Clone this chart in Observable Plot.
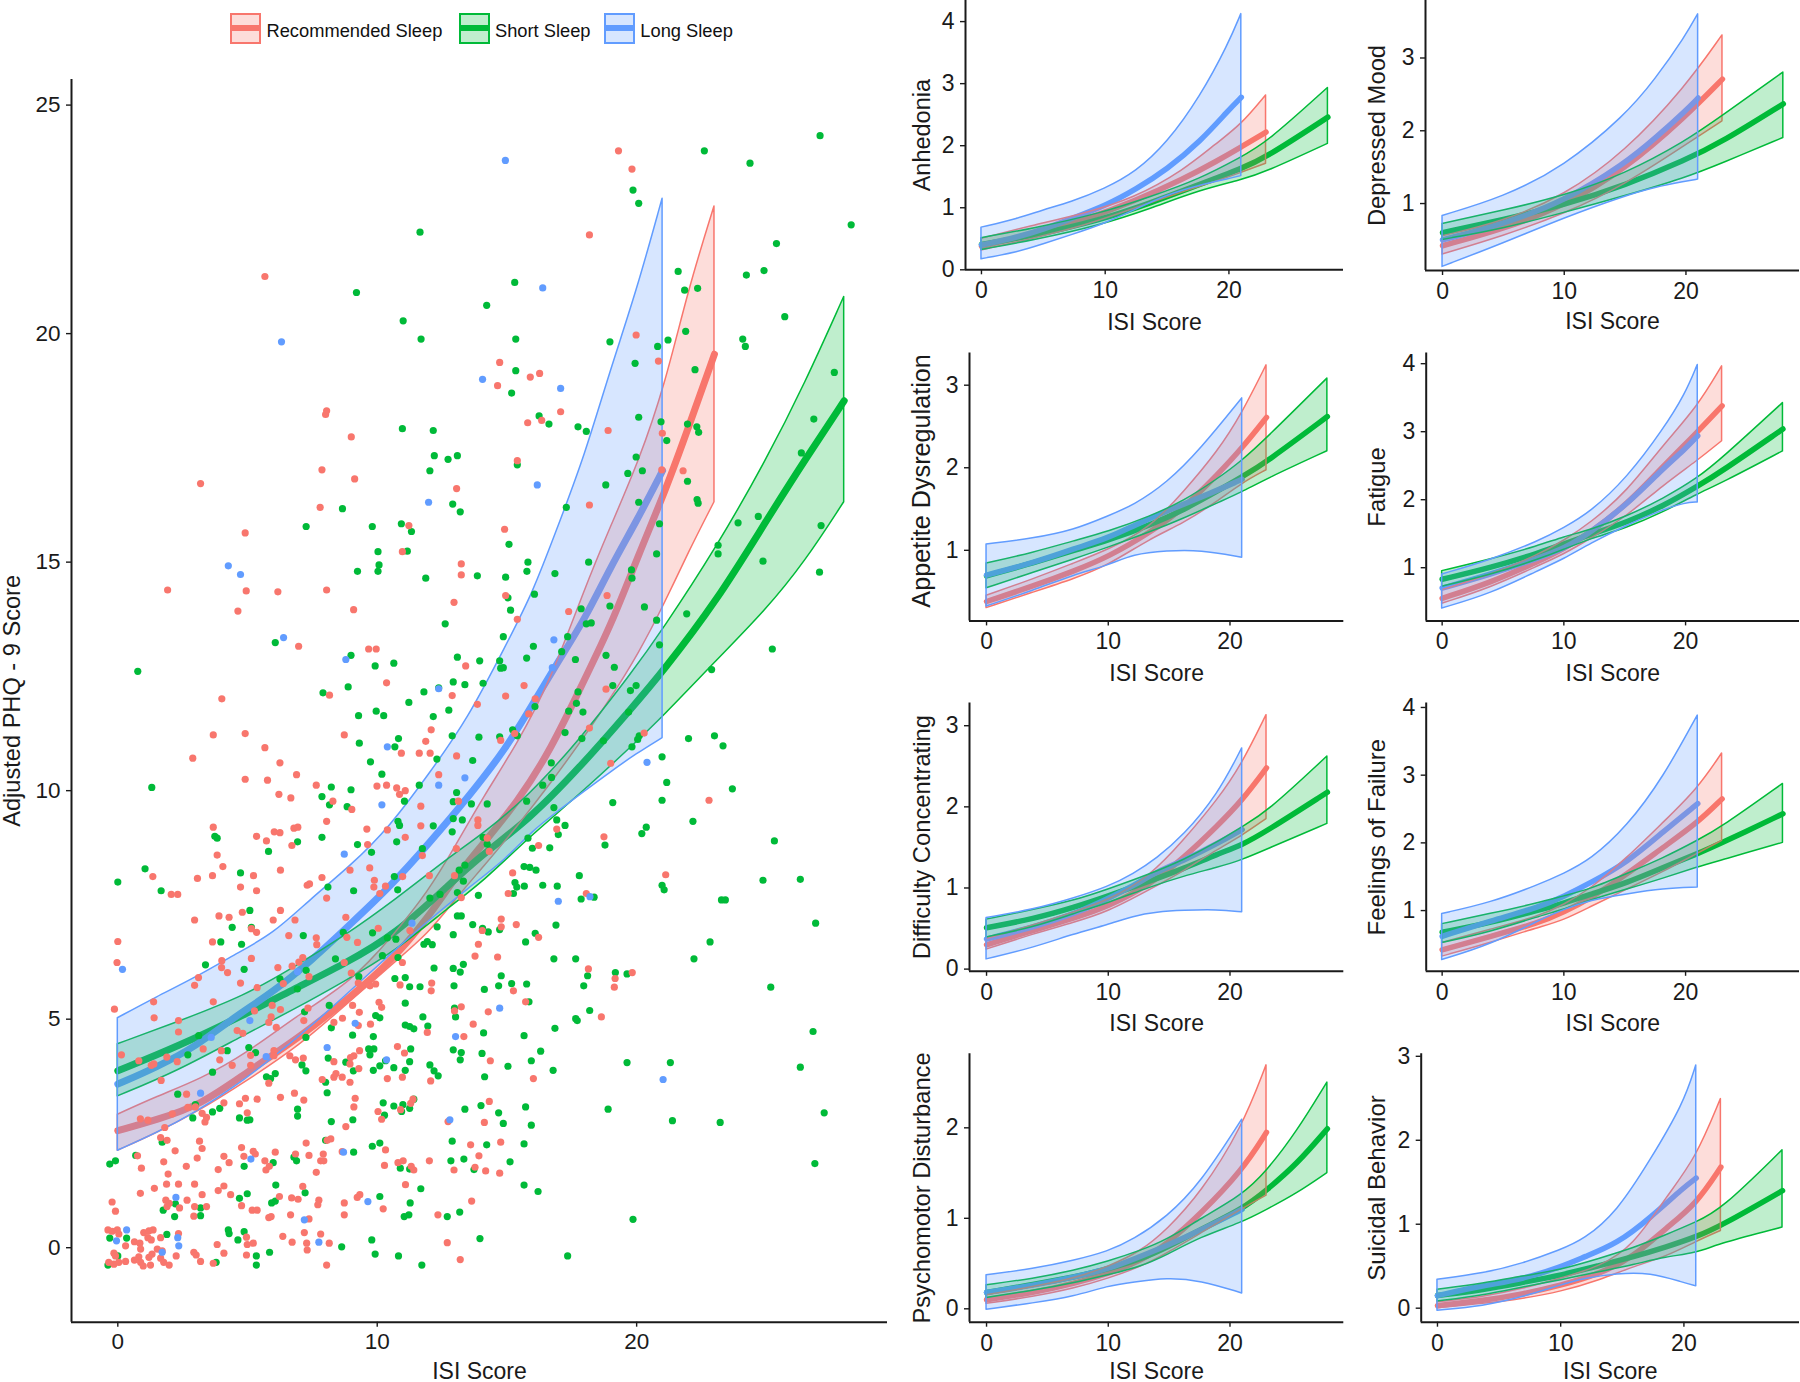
<!DOCTYPE html>
<html><head><meta charset="utf-8">
<script src="https://cdn.jsdelivr.net/npm/d3@7"></script>
<script src="https://cdn.jsdelivr.net/npm/@observablehq/plot@0.6"></script>
<style>
html,body{margin:0;padding:0;background:#fff;width:1800px;height:1382px;overflow:hidden;font-family:"Liberation Sans",Arial,sans-serif}
#page{position:relative;width:1800px;height:1382px}
.panel{position:absolute}
.key{position:absolute;top:13px;width:27px;height:27px;border:2px solid}
.key i{position:absolute;left:0;right:0;top:10px;height:6px;display:block}
.keyText{position:absolute;top:20px;font-size:18.3px;line-height:22px;color:#111;white-space:nowrap}
</style></head><body><div id="page"></div>
<script>
const groupNames = ["Recommended Sleep","Short Sleep","Long Sleep"];
const isiLabel = "ISI Score";
const colRed="#F8766D", colGreen="#00BA38", colBlue="#619CFF";

// --- overall PHQ-9 model: rows are [ISI, lower, fit, upper]
const phqRecommended=[[0,2.12,2.56,2.91],[1.5,2.5,2.8,3.3],[3.2,3.0,3.12,3.68],[5,3.65,3.85,4.25],[7,4.4,4.6,5.1],[9,5.4,5.5,5.8],[10.6,6.2,6.3,6.8],[12,6.87,7.25,7.8],[13,7.6,8.1,8.75],[14.1,8.32,8.85,9.85],[15.4,9.2,9.75,11.0],[16.7,10.15,10.9,12.4],[18,11.17,12.45,14.4],[19,12.0,13.6,15.76],[20.1,13.0,15.2,17.2],[21.1,14.1,16.55,18.85],[22,15.2,17.95,20.95],[23,16.31,19.55,22.78]];
const phqShort=[[0,3.31,3.87,4.45],[2.3,3.85,4.4,4.93],[4.9,4.65,5.1,5.5],[6.8,5.2,5.66,6.13],[8.7,5.8,6.2,6.79],[10.7,6.47,6.85,7.6],[12.8,7.45,7.96,8.54],[14.1,8.0,8.63,9.05],[15.8,8.94,9.34,9.85],[17.8,9.9,10.5,11.09],[19.8,10.95,11.8,12.55],[21,11.6,12.6,13.5],[23.1,12.85,14.16,15.32],[25,13.95,15.91,17.22],[26.5,15.0,17.25,18.9],[28,16.31,18.53,20.8]];
const phqLong=[[0,2.12,3.58,5.02],[1.5,2.5,3.95,5.48],[3,2.95,4.4,5.9],[4.5,3.5,5.05,6.4],[6,4.15,5.6,6.85],[7.5,4.85,6.3,7.65],[9,5.62,7.1,8.35],[10.5,6.4,7.9,9.2],[12,7.15,8.85,10.35],[13.5,7.85,9.85,11.55],[15,8.5,10.95,13.2],[16,9.12,11.9,14.3],[17,9.55,12.85,15.8],[18,9.98,13.75,17.3],[19,10.4,14.9,19.2],[20,10.8,15.9,20.9],[21,11.15,17.0,22.95]];

// --- participants: [ISI, adjusted PHQ-9]
const pointsShort=[[11.65,22.22],[9.2,20.9],[11,20.28],[11.69,19.88],[10.97,17.92],[12.16,17.88],[12.2,17.33],[12.73,17.25],[22.61,24],[24.37,23.73],[27.07,24.33],[19.86,23.14],[20.08,22.85],[28.27,22.38],[25.39,21.97],[24.91,21.38],[24.23,21.28],[21.6,21.36],[21.85,20.95],[22.35,20.99],[15.3,21.12],[14.22,20.62],[25.71,20.37],[15.34,19.88],[18.97,19.82],[21.21,19.86],[20.81,19.72],[21.89,20.05],[24.09,19.88],[24.19,19.72],[19.94,19.35],[22.25,19.21],[27.62,19.15],[15.34,19.19],[15.18,18.7],[16.24,18.2],[16.62,18.02],[17.74,17.96],[18.06,17.86],[20.08,18.17],[20.94,18.07],[21.96,18.02],[22.32,17.96],[22.39,17.84],[21.16,17.66],[26.83,18.13],[26.35,17.39],[19.98,17.3],[13.09,17.33],
[12.03,17],[8.66,16.17],[7.26,15.78],[9.81,15.78],[10.93,15.84],[11.32,15.67],[10.03,15.23],[11.16,15.24],[10.07,14.94],[9.24,14.8],[10.03,14.8],[11.87,14.65],[12.62,13.65],[6.07,13.24],[8.99,12.96],[9.92,12.73],[10.64,12.79],[0.77,12.61],[8.88,12.27],[7.91,12.14],[11.8,12.16],[12.37,12.25],[11.22,11.93],[9.96,11.74],[10.25,11.64],[9.28,11.64],[12.16,11.62],[12.76,11.76],[9.31,11.04],[10.82,11.14],[10.68,10.96],[12.3,10.69],[9.74,10.63],[10.18,10.36],[1.31,10.07],[8.23,10.08],[7.87,9.87],[8.99,10.02],[11.62,10.12],[8.16,9.69],[8.84,9.65],[11.05,9.77],[10.8,9.33],[10.86,9.24],[12.16,9.23],[3.74,9],[3.83,8.96],[7.87,8.98],[6.93,8.88],[5.81,8.67],[9.24,8.82],[9.78,8.65],[10.75,8.88],[11.74,8.73],[1.05,8.29],[4.73,8.2],[0,8],[1.67,7.81],[8.1,7.89],[9.09,7.81],[10.66,8.12],[10.79,7.83],[5.09,7.38],[12.03,7.65],[12.42,7.73],
[15.4,17.13],[19.66,16.94],[20.22,17],[21.96,16.77],[18.81,16.69],[12.91,16.27],[13.2,16.1],[17.29,16.2],[20.08,16.31],[22.33,16.37],[22.37,16.29],[20.88,15.84],[23.91,15.86],[24.69,16],[27.11,15.8],[15.08,15.39],[23.14,15.37],[23.14,15.18],[20.77,15.18],[15.81,15],[15.77,14.8],[18.15,15],[16.85,14.75],[13.86,14.7],[14.95,14.67],[19.8,14.83],[19.82,14.65],[24.87,15.02],[27.05,14.78],[15.04,14.22],[16.06,14.3],[15.14,13.95],[17.86,13.98],[18.97,14.04],[20.3,14.02],[21.93,13.87],[18.06,13.65],[18.25,13.67],[20.77,13.73],[14.86,13.37],[17.34,13.37],[16.02,13.16],[20.88,13.19],[25.23,13.1],[13.09,12.92],[13.95,12.84],[14.72,12.84],[15.76,12.9],[17.11,13.04],[17.64,12.87],[18.82,12.96],[19.14,12.7],[14.76,12.68],[14.86,12.69],[22.89,12.65],[12.93,12.38],[13.38,12.32],[14.08,12.35],[19.08,12.3],[19.98,12.3],[19.76,12.19],[17.74,12.16],[16.08,11.84],[17.68,11.91],[17.38,11.74],[17.93,11.72],[19.69,11.72],[17.24,11.27],[17.89,11.14],[18.72,11.09],[22,11.14],[23,11.2],[23.33,10.98],[12.89,11.2],[13.92,11.17],[14.72,11.18],[15.22,11.33],[15.4,11.2],[20.1,11.2],[20.04,11.12],[19.82,10.96],[20.98,10.74],[13.68,10.66],[16.71,10.61],[16.38,10.12],[16.72,10.29],[21.16,10.18],[23.69,10.04],[13.06,9.96],[12.93,9.76],[13.63,9.71],[14.24,9.71],[15.76,9.77],[19.08,9.74],[20.98,9.79],[16.81,9.63],[12.93,9.39],[13.28,9.36],[12.89,9.1],[16.92,9.36],[17.24,9.24],[16.98,9.04],[20.37,9.2],[20.2,9.06],[22.17,9.33],[14.08,8.98],[15.81,8.96],[14.24,8.83],[25.31,8.9],[18.78,8.81],[15.98,8.74],[16.65,8.75],[15.66,8.34],[15.88,8.32],[16.12,8.26],[13.38,8.37],[13.16,8.26],[13.32,8.02],[17.79,8.14],[15.31,7.99],[15.38,7.89],[15.67,7.91],[16.38,7.93],[16.94,7.91],[20.98,7.93],[21.06,7.83],[24.87,8.04],[26.31,8.06],[15.25,7.75],[13.09,7.77],[13.9,7.71],[17.86,7.63],[18.36,7.67],[23.27,7.61],[23.42,7.61],[13.09,7.26],[13.24,7.26],
[4.41,7.01],[5.15,7.01],[3.97,6.69],[4.77,6.64],[7.15,6.83],[3.38,6.19],[4.87,6.09],[6.25,5.88],[7.26,6.07],[6.92,5.66],[8.69,6.9],[8.39,6.32],[9.82,6.89],[10.39,6.78],[10.72,6.75],[10.2,6.39],[10.8,6.35],[11.8,6.64],[11.93,6.7],[12.12,6.63],[12.31,7.02],[12.19,6.12],[9.29,5.93],[10.68,5.89],[11.08,5.91],[11.25,5.71],[11.65,5.71],[3.12,4.64],[2.7,4.22],[4.22,4.31],[5.05,4.38],[5.31,4.27],[7.2,5.16],[8.15,5.3],[7.25,4.6],[8.23,4.81],[9.05,4.65],[9.85,4.62],[9.94,5.08],[10.1,5.03],[11.08,5.35],[11.76,5.05],[11.08,4.87],[11.25,4.84],[11.41,4.79],[11.95,4.85],[11.29,4.35],[9.67,4.35],[9.87,4.35],[9.72,4.22],[8.11,4.15],[8.79,4.06],[7.1,4],[7.25,3.87],[9.85,3.88],[10.1,3.98],[10.32,4.09],[10.64,3.94],[11.25,4.07],[11.08,3.88],[12.03,4],[12.19,3.87],[12.35,3.76],[9.08,3.87],[8.01,3.62],[8.07,3.39],[3.65,3.84],[5.73,3.74],[6.07,3.81],[5.89,3.7],[2.31,3.36],[2.99,3.13],[2.89,2.84],[3.65,2.97],[3.93,3.05],[4.69,2.84],[4.99,2.79],[5.09,2.8],[6.93,3.03],[6.93,2.88],[8.23,2.76],[9.06,2.8],[10.23,3.17],[10.28,2.9],[10.64,3.1],[10.99,3.13],[10.94,2.98],[11.25,3.05],[11.41,3.25],[1.71,2.31],[8.01,2.35],[9.09,2.09],[9.81,2.22],[10.1,2.29],[-0.31,1.83],[-0.09,1.9],[0.69,2.02],[4.87,1.78],[5.99,1.86],[6.79,1.98],[6.89,1.9],[10.89,1.74],[11.25,1.72],[6.09,1.37],[7.22,1.2],[4.99,1.18],[4.69,1.08],[10.1,1.12],[11.68,1.29],[11.27,0.98],[2.22,0.96],[5.93,0.98],[6.07,1.02],[1.75,0.82],[2.19,0.68],[3.19,0.87],[3.19,0.7],[11.04,0.68],[11.22,0.72],[12.7,0.68],[1.89,0.29],[4.26,0.39],[4.29,0.31],[4.87,0.35],[4.63,0.17],[-0.31,0.21],[0.34,0.21],[9.79,0.17],[8.63,0.02],[5.85,-0.1],[5.34,-0.18],[5.34,-0.38],[0,-0.18],[3.79,-0.32],[9.92,-0.14],[10.82,-0.18],[11.72,-0.38],[-0.38,-0.38],
[13.68,7.07],[14.06,6.99],[14.28,6.91],[14.72,6.96],[16.89,7.06],[26.9,7.1],[12.93,6.85],[16.09,6.88],[15.72,6.69],[22.83,6.69],[16.81,6.32],[17.65,6.32],[22.21,6.32],[13.32,6.2],[12.93,6.11],[13.2,6.03],[14.78,5.95],[19.18,6.02],[19.63,5.99],[18.11,5.95],[17.96,5.73],[15.18,5.78],[15.76,5.77],[25.17,5.7],[12.96,5.73],[14.68,5.73],[14.13,5.65],[15.85,5.38],[12.98,5.24],[13.02,5.05],[18.19,5.19],[17.65,5.01],[17.71,4.97],[16.85,4.8],[14.1,4.7],[15.66,4.64],[26.8,4.73],[12.93,4.33],[13.24,4.27],[14.04,4.25],[16.3,4.3],[13.2,4.11],[15.94,4.09],[19.63,4.05],[21.3,4.05],[15.04,3.97],[26.31,3.95],[16.78,3.88],[14.14,3.74],[13.38,3.03],[14,3.11],[14.68,2.95],[15.72,3.08],[18.9,3.03],[27.23,2.95],[21.38,2.78],[14.86,2.72],[15.94,2.68],[23.22,2.74],[12.89,2.33],[14.22,2.25],[15.66,2.27],[12.84,1.9],[13.34,1.94],[15.12,1.88],[13.73,1.71],[26.87,1.84],[15.66,1.37],[16.2,1.23],[13.18,0.78],[19.86,0.62],[13.96,0.2],[17.34,-0.18]];
const pointsRecommended=[[5.67,21.25],[8.01,18.23],[8.05,18.31],[9,17.74],[19.3,24],[19.82,23.6],[18.18,22.16],[19.98,19.97],[20.84,19.4],[14.72,19.37],[14.64,18.86],[15.9,19.05],[16.26,19.13],[17.07,18.29],[15.8,18.05],[16.34,18.1],[18.9,17.88],[20.99,17.82],[15.4,17.22],
[7.87,17.02],[9.13,16.82],[3.19,16.72],[7.8,16.2],[4.91,15.64],[11.22,15.8],[10.97,15.23],[1.92,14.39],[4.95,14.37],[6.17,14.35],[8.05,14.39],[4.63,13.93],[9.09,13.96],[6.97,13.16],[9.67,13.1],[9.96,13.1],[10.36,12.36],[8.16,12.09],[4.01,12.01],[3.68,11.22],[4.91,11.25],[8.73,11.22],[5.67,10.94],[2.89,10.71],[6.25,10.61],[10.93,10.82],[11.62,10.82],[12.04,10.82],[11.87,11.08],[12.08,11.33],[6.89,10.35],[4.91,10.25],[5.77,10.23],[7.65,10.12],[9.99,10.1],[10.36,10.12],[10.75,10.06],[11.08,10],[10.86,9.92],[6.21,9.92],[6.67,9.84],[8.29,9.77],[9.02,9.59],[11.68,9.66],[12.37,10.35],[3.68,9.2],[8.05,9.33],[9.6,9.16],[10.39,9.14],[11.68,9.23],[6.03,9.1],[6.25,9.08],[6.79,9.18],[6.94,9.2],[5.35,9],[5.73,8.9],[6.71,8.8],[11.08,8.98],[9.63,8.82],[3.83,8.59],[4.05,8.34],[11.74,8.58],[6.27,8.26],[8.95,8.26],[9.71,8.31],[1.35,8.12],[3.07,8.08],[3.65,8.14],[5.23,8.14],[7.87,8.1],[9.89,8.04],[10.98,8.12],[12.01,8.14],[4.73,7.89],[5.35,7.81],[7.3,7.93],[7.39,7.96],[9.87,7.89],[10.32,7.91],[10.1,7.75],[2.06,7.73],[2.31,7.73],[8.05,7.65],[3.9,7.26],[4.29,7.23],[4.8,7.34],[6.27,7.38],[2.96,7.17],[5.99,7.17],[6.83,7.17],[8.79,7.23],
[13.06,16.61],[14.91,15.72],[13.24,14.96],[13.24,14.72],[12.96,14.12],[14.95,14.27],[18.18,16.25],[20.97,17.02],[21.79,17],[18.86,14.27],[17.38,13.92],[15.4,13.75],[13.41,12.73],[15.66,12.3],[12.89,12.08],[14.95,12.07],[13.86,11.89],[16.09,12.01],[18.82,12.22],[15.84,11.68],[14.76,11.1],[15.3,11.25],[18.18,11.37],[20.29,11.26],[13.06,10.76],[19,10.6],[13.13,9.77],[13.88,9.36],[13.88,9.24],[14.24,8.96],[14.32,8.67],[13.05,8.73],[22.79,9.79],[16.92,9.16],[18.74,8.99],[16.22,8.8],[12.98,8.14],[15.22,8.2],[21.12,8.16],[15.05,7.75],[18.06,7.75],[13.24,7.66],[14.78,7.19],
[0,6.7],[-0.03,6.24],[-0.13,5.22],[3.65,6.69],[5.15,6.98],[5.35,6.9],[6.59,6.83],[7.65,6.78],[7.67,6.63],[4.01,6.28],[4,6.13],[5.15,6.33],[3.11,5.91],[2.96,5.74],[4.23,6.02],[4.73,5.79],[5.37,5.69],[6.17,6.13],[6.72,6.16],[6.98,6.25],[7.13,6.35],[6.38,5.78],[7.37,5.93],[8.83,6.79],[9.24,6.68],[8.73,6.24],[9,6.01],[10.04,6.99],[1.38,5.38],[1.4,5.03],[3.68,5.38],[2.34,4.97],[2.34,4.72],[5.95,5.3],[6.27,5.21],[5.27,5.18],[5.91,5.05],[5.82,4.93],[6.11,4.82],[4.6,4.75],[4.82,4.69],[3.29,4.35],[3.99,4.31],[3.93,4.11],[0.14,4.22],[0.81,4.09],[1.29,3.99],[1.39,4.02],[1.89,4.17],[2.29,4.07],[4.41,3.99],[5.12,4.21],[5.12,3.99],[6.02,4.31],[6.02,4.2],[6.63,4.2],[7.15,4.15],[6.85,4.11],[1.67,3.66],[5.82,3.6],[7.33,5.24],[7.17,4.97],[9.31,5.15],[9.05,5.3],[8.66,5.02],[8.33,4.93],[9.74,4.89],[9.27,4.86],[10.07,5.37],[10.17,5.26],[9.72,5.73],[9.94,5.77],[9.27,5.79],[10.78,4.4],[11.05,4.26],[8.33,4.07],[8.97,4.16],[9.1,4.2],[8.95,4.02],[9.32,4.31],[9.29,3.92],[7.88,3.68],[8.33,3.73],[8.41,3.81],[8.65,3.73],[8.95,3.62],[10.39,3.7],[10.97,3.73],[12.06,3.65],[11.93,4.71],[10.88,5.75],[12.1,5.79],[12.08,5.62],[11.26,6.94],[10.97,6.24],
[6.27,3.29],[6.81,3.38],[7.17,3.23],[5.37,3.25],[4.92,3.27],[4.69,3.15],[4.09,3.17],[2.65,3.36],[2.7,3.07],[2.99,3.08],[3.25,2.94],[3.42,2.85],[3.36,2.75],[4.99,2.95],[0.87,2.82],[1.16,2.79],[2.1,2.93],[1.81,2.63],[1.65,2.41],[1.9,2.35],[3.15,2.33],[3.25,2.17],[2.21,2.12],[4.77,2.19],[5.22,2.11],[5.3,2.05],[6.07,2.09],[7.26,2.29],[8.07,2.35],[8.21,2.38],[8.79,2.65],[9.1,3.08],[9.15,3.27],[10.03,2.98],[10.17,2.81],[10.9,3.02],[11.29,3.16],[11.38,3.25],[12.73,2.76],
[0.76,2.01],[1.77,1.88],[3.06,1.96],[4.09,2],[4.86,2],[4.29,1.86],[0.91,1.74],[2.64,1.78],[3.87,1.71],[5.67,1.9],[5.84,1.78],[5.71,1.7],[6.85,2.05],[7.37,2.02],[7.92,2.05],[7.82,1.9],[7.94,1.9],[7.65,1.65],[8.65,2.1],[10.32,2.14],[10.28,1.8],[10.8,1.86],[11,1.9],[11.31,1.78],[11.41,1.7],[12.01,1.9],
[1.94,1.61],[1.41,1.3],[1.88,1.39],[2.34,1.39],[2.96,1.39],[0.87,1.19],[3.25,1.16],[3.87,1.25],[4.09,1.35],[4.35,1.16],[1.85,1.04],[1.98,0.97],[1.9,0.9],[2.67,1.04],[-0.22,1],[-0.09,0.8],[2.38,0.87],[2.96,0.9],[3.42,0.9],[2.93,0.69],[4.77,0.92],[5.18,0.82],[5.37,0.82],[5.82,0.66],[5.91,0.68],[6.23,1.12],[6.7,1.09],[6.95,1.06],[7.13,1.34],[7.75,1.04],[7.71,0.94],[6.66,0.72],[7.37,0.63],[8.73,0.98],[8.73,0.72],[9.23,1.1],[9.33,1.16],[10.23,0.85],[11.09,1.38],[12.34,0.72],
[-0.38,0.39],[-0.22,0.36],[-0.02,0.39],[0.04,0.3],[1,0.33],[1.2,0.37],[1.36,0.39],[1.16,0.22],[1.29,0.17],[1.65,0.22],[0.64,0.13],[0.85,0.1],[0.3,0.04],[0.88,-0.03],[1.52,-0.03],[1.32,-0.14],[1.71,-0.07],[-0.15,-0.12],[-0.09,-0.18],[0.81,-0.2],[0.64,-0.27],[1.2,-0.21],[1.65,-0.23],[-0.35,-0.32],[-0.15,-0.36],[0.04,-0.32],[0.3,-0.3],[0.88,-0.32],[0.98,-0.4],[1.26,-0.38],[1.77,-0.32],[1.98,-0.38],[2.25,-0.18],[2.93,-0.1],[3.02,-0.16],[3.19,-0.3],[3.68,-0.34],[4.09,-0.12],[3.83,0.07],[2.34,0.31],[4.96,0.23],[4.99,0.07],[5.22,0.1],[4.96,-0.16],[6.36,0.25],[6.72,0.12],[7.19,0.33],[7.82,0.3],[7.28,0.1],[7.3,-0.05],[8.15,0.1],[8.05,-0.38],[12.7,0.11],
[14.78,7.02],[15.36,7.07],[14.05,6.94],[16.22,6.79],[13.9,6.64],[13.77,6.38],[14.64,6.36],[18.14,6.1],[19.83,6.02],[19.17,5.89],[19.14,5.7],[15.25,5.62],[15.72,5.38],[13.24,5.27],[12.98,5.18],[14.28,5.16],[13.7,4.89],[18.64,5.05],[13.34,4.62],[14.36,4.09],[16.02,3.7],[14.32,3.2],[14.13,2.74],[13.6,2.25],[14.76,2.31],[13.92,2.01],[12.96,1.7],[13.77,1.76],[14.18,1.68],[14.72,1.63],[13.64,1.02],[13.2,-0.26]];
const pointsLong=[[6.31,19.82],[14.94,23.79],[16.38,21],[14.06,19],[17.07,18.8],[11.98,16.31],[4.26,14.92],[4.73,14.73],[6.39,13.35],[8.79,12.87],[10.39,10.96],[12.37,10.12],[12.37,12.23],[10.18,9.69],[8.73,8.61],[16.17,16.69],[16.81,13.3],[16.75,12.69],[13.38,10.28],[20.4,10.62],[16.98,7.58],[18.2,7.68],[0.18,6.09],[6.93,6.04],[11.34,7.1],[3.6,4.6],[5.09,4.97],[5.72,4.18],[3.19,3.38],[8.07,4.38],[9.15,4.91],[10.36,4.11],[5.13,1.94],[8.7,2.09],[2.24,1.1],[9.64,1.01],[7.19,0.61],[0.34,0.39],[2.31,0.22],[2.35,0.04],[-0.05,0.15],[7.75,0.12],[1.71,-0.1],[12.8,2.8],[14.72,5.24],[13.02,4.62],[21.02,3.68]];

// --- symptom models: rows are [ISI, lower, fit, upper]
const anhedoniaRec=[[0,.31,.38,.5],[4.2,.5,.57,.71],[8.3,.7,.8,.9],[12.3,.98,1.1,1.14],[16.4,1.26,1.47,1.6],[19,1.42,1.75,2.03],[21,1.56,1.98,2.33],[23,1.71,2.22,2.81]];
const anhedoniaShort=[[0,.32,.41,.51],[4.2,.47,.55,.66],[9.6,.71,.8,.9],[13.7,.98,1.08,1.17],[17.7,1.28,1.38,1.46],[21,1.44,1.63,1.81],[23,1.57,1.81,2.03],[28,2.03,2.46,2.93]];
const anhedoniaLong=[[0,.17,.4,.68],[3,.28,.53,.82],[5,.41,.65,.96],[7.2,.55,.82,1.08],[10,.74,1.03,1.3],[12.5,.97,1.3,1.57],[15,1.2,1.62,2.03],[17.7,1.36,2.07,2.78],[20,1.46,2.58,3.64],[21,1.51,2.78,4.12]];
const depressedRec=[[0,.3,.42,.55],[5,.55,.65,.75],[10,.85,.97,1.1],[15,1.25,1.47,1.7],[20,1.8,2.2,2.6],[23,2.13,2.71,3.31]];
const depressedShort=[[0,.5,.6,.72],[5,.65,.78,.9],[10,.87,.98,1.1],[15,1.1,1.25,1.4],[20,1.35,1.6,1.85],[23,1.55,1.85,2.2],[28,1.9,2.37,2.8]];
const depressedLong=[[0,.13,.5,.83],[5,.45,.72,1.08],[10,.8,1.03,1.5],[15,1.1,1.55,2.2],[17.5,1.22,1.9,2.7],[20,1.3,2.28,3.3],[21,1.33,2.45,3.6]];
const appetiteRec=[[0,.3,.38,.45],[3.9,.49,.57,.65],[7.2,.65,.75,.84],[10,.81,.92,1],[13.5,1.14,1.22,1.27],[16.2,1.32,1.51,1.7],[19,1.59,1.92,2.19],[21,1.81,2.24,2.65],[23,1.97,2.61,3.24]];
const appetiteShort=[[0,.54,.69,.84],[3.9,.73,.85,.97],[7.2,.89,1,1.11],[10,1.03,1.12,1.22],[13.5,1.22,1.31,1.41],[16.2,1.38,1.49,1.59],[19,1.57,1.72,1.86],[21,1.7,1.89,2.08],[23,1.86,2.07,2.35],[28,2.2,2.62,3.08]];
const appetiteLong=[[0,.32,.7,1.07],[3.9,.51,.85,1.14],[7.2,.7,1.02,1.24],[10,.81,1.15,1.41],[12.1,.95,1.3,1.54],[14.85,.99,1.48,1.81],[17.6,1,1.64,2.22],[21,.91,1.86,2.84]];
const fatigueRec=[[0,.47,.55,.67],[4,.7,.78,.89],[8,1.03,1.1,1.19],[10,1.19,1.28,1.39],[12.2,1.42,1.52,1.65],[15.2,1.75,1.93,2.11],[18.2,2.21,2.5,2.8],[21,2.57,3,3.36],[23,2.86,3.38,3.96]];
const fatigueShort=[[0,.72,.83,.95],[4,.89,1,1.12],[8,1.12,1.22,1.32],[10,1.26,1.35,1.45],[12.2,1.42,1.49,1.55],[15.2,1.58,1.67,1.75],[18.2,1.81,1.91,2.01],[21,2.08,2.2,2.31],[23,2.24,2.42,2.6],[28,2.71,3.04,3.42]];
const fatigueLong=[[0,.4,.7,.9],[4,.61,.9,1.11],[8,.96,1.15,1.39],[10,1.12,1.28,1.58],[12.2,1.35,1.52,1.81],[15.2,1.62,1.93,2.31],[18.2,1.85,2.47,3.03],[20,1.95,2.75,3.55],[21,1.96,2.94,3.98]];
const concentratingRec=[[0,.24,.3,.37],[3.9,.43,.48,.54],[7.2,.57,.63,.7],[10,.7,.77,.84],[13.5,.98,1.05,1.14],[16.2,1.2,1.37,1.58],[19,1.47,1.77,2.08],[21,1.64,2.08,2.52],[23,1.85,2.48,3.13]];
const concentratingShort=[[0,.39,.51,.61],[3.9,.51,.62,.73],[7.2,.68,.76,.84],[10,.81,.9,.98],[13.5,1.01,1.09,1.17],[16.2,1.14,1.24,1.34],[19,1.25,1.42,1.56],[21,1.34,1.53,1.75],[23,1.47,1.7,1.92],[28,1.79,2.18,2.62]];
const concentratingLong=[[0,.12,.37,.63],[3.9,.26,.52,.73],[7.2,.43,.68,.87],[10,.54,.87,1.01],[12.1,.65,1.03,1.17],[14,.7,1.2,1.36],[16.2,.72,1.34,1.64],[19,.73,1.55,2.14],[21,.7,1.72,2.72]];
const failureRec=[[0,.32,.42,.52],[4,.52,.62,.72],[8,.75,.82,.91],[10,.85,.98,1.08],[12.2,1.05,1.18,1.31],[15.2,1.31,1.54,1.77],[18.2,1.57,1.94,2.3],[21,1.84,2.3,2.79],[23,2.03,2.65,3.32]];
const failureShort=[[0,.52,.68,.8],[4,.68,.82,.95],[8,.91,1.01,1.11],[10,1.01,1.11,1.21],[12.2,1.15,1.24,1.31],[15.2,1.31,1.41,1.54],[18.2,1.47,1.64,1.77],[21,1.64,1.84,2.03],[23,1.74,2,2.23],[28,2,2.43,2.87]];
const failureLong=[[0,.27,.62,.95],[4,.49,.85,1.11],[8,.85,1.05,1.38],[10,1.01,1.21,1.54],[12.2,1.15,1.41,1.74],[15.2,1.24,1.71,2.23],[18.2,1.32,2.17,2.96],[21,1.34,2.58,3.88]];
const psychomotorRec=[[0,.055,.1,.15],[3.9,.13,.18,.24],[7.2,.22,.28,.33],[10,.33,.39,.46],[12.7,.46,.53,.63],[14.85,.61,.72,.87],[17.6,.83,1.05,1.27],[21,1.1,1.53,1.99],[23,1.25,1.95,2.69]];
const psychomotorShort=[[0,.12,.18,.26],[3.9,.2,.27,.33],[7.2,.28,.35,.42],[10,.37,.44,.52],[12.7,.46,.55,.64],[14.85,.59,.68,.76],[17.6,.79,.88,.99],[21,.95,1.1,1.25],[23,1.09,1.31,1.51],[25.5,1.27,1.6,1.95],[28,1.5,1.99,2.5]];
const psychomotorLong=[[0,-.01,.18,.37],[3.9,.06,.26,.44],[7.2,.13,.35,.53],[10,.25,.44,.63],[12.1,.29,.55,.76],[14.85,.34,.7,1.01],[17.6,.31,.87,1.38],[21,.17,1.1,2.09]];
const suicidalRec=[[0,0,.03,.07],[3.76,.05,.09,.13],[7,.11,.17,.23],[10,.19,.27,.35],[13.2,.33,.41,.49],[15.9,.49,.61,.73],[18.6,.61,.96,1.32],[21,.79,1.24,1.78],[23,.92,1.68,2.49]];
const suicidalShort=[[0,.08,.15,.22],[3.76,.15,.22,.29],[7,.25,.31,.38],[10,.33,.39,.45],[13.2,.43,.51,.59],[15.9,.51,.61,.71],[18.6,.61,.73,.87],[21,.65,.85,1.02],[23,.77,.98,1.16],[28,.96,1.4,1.88]];
const suicidalLong=[[0,-.03,.15,.34],[3.76,.02,.27,.41],[7,.13,.35,.53],[10,.27,.49,.69],[11.9,.35,.61,.81],[14.6,.41,.77,1.14],[17.3,.42,1.08,1.76],[20,.3,1.44,2.43],[21,.26,1.55,2.89]];

const panels=[
 {name:"Anhedonia",rec:anhedoniaRec,sho:anhedoniaShort,lon:anhedoniaLong,ticks:[0,1,2,3,4],x:[-1.29,29.26],y:[0,4.34],l:965,r:1343,t:0,b:269.3,lab:921.7,fs:23.5,shift:0,xlab:52.4},
 {name:"Depressed Mood",rec:depressedRec,sho:depressedShort,lon:depressedLong,ticks:[1,2,3],x:[-1.4,29.33],y:[.08,3.79],l:1425,r:1799,t:0,b:270,lab:1377,fs:23.8,shift:0,xlab:51.5},
 {name:"Appetite Dysregulation",rec:appetiteRec,sho:appetiteShort,lon:appetiteLong,ticks:[1,2,3],x:[-1.4,29.35],y:[.145,3.39],l:969,r:1343.3,t:352.5,b:620.4,lab:921.7,fs:25.2,shift:-6,xlab:52.4},
 {name:"Fatigue",rec:fatigueRec,sho:fatigueShort,lon:fatigueLong,ticks:[1,2,3,4],x:[-1.31,29.36],y:[.218,4.157],l:1425.7,r:1799,t:352.5,b:620.4,lab:1377,fs:23.8,shift:0,xlab:52.4},
 {name:"Difficulty Concentrating",rec:concentratingRec,sho:concentratingShort,lon:concentratingLong,ticks:[0,1,2,3],x:[-1.4,29.35],y:[-.027,3.28],l:969,r:1343.3,t:702.5,b:970.8,lab:921.7,fs:23.8,shift:0,xlab:52.4},
 {name:"Feelings of Failure",rec:failureRec,sho:failureShort,lon:failureLong,ticks:[1,2,3,4],x:[-1.31,29.36],y:[.103,4.066],l:1425.7,r:1799,t:702.5,b:970.8,lab:1377,fs:23.9,shift:0,xlab:52.4},
 {name:"Psychomotor Disturbance",rec:psychomotorRec,sho:psychomotorShort,lon:psychomotorLong,ticks:[0,1,2],x:[-1.4,29.35],y:[-.148,2.818],l:969,r:1343.3,t:1053.3,b:1321.7,lab:921.7,fs:23.7,shift:0,xlab:49.5},
 {name:"Suicidal Behavior",rec:suicidalRec,sho:suicidalShort,lon:suicidalLong,ticks:[0,1,2,3],x:[-1.32,29.38],y:[-.167,3.03],l:1420.7,r:1799,t:1053.3,b:1321.7,lab:1377,fs:24,shift:0,xlab:49.5}
];

const ink="#1a1a1a";
const page=document.getElementById("page");

function layers(rec,sho,lon,lw){
  const fit=(t,c)=>Plot.lineY(t,{x:d=>d[0],y:d=>d[2],stroke:c,strokeWidth:lw,curve:"basis"});
  const rib=(t,c)=>Plot.areaY(t,{x:d=>d[0],y1:d=>d[1],y2:d=>d[3],fill:c,fillOpacity:.25,stroke:c,strokeWidth:1.5,curve:"basis"});
  return [fit(rec,colRed),fit(sho,colGreen),fit(lon,colBlue),rib(rec,colRed),rib(sho,colGreen),rib(lon,colBlue)];
}
function frame(x,y,o){
  return [
    Plot.axisX({ticks:[0,10,20],tickSize:5,tickPadding:o.xpad,fontSize:o.tickFs,label:null,stroke:ink,fill:ink,strokeWidth:1.4}),
    Plot.axisY({ticks:o.ticks,tickFormat:"d",tickSize:5,tickPadding:o.ypad,fontSize:o.tickFs,label:null,stroke:ink,fill:ink,strokeWidth:1.4}),
    Plot.ruleX([x[0]],{stroke:ink,strokeWidth:2}),
    Plot.ruleY([y[0]],{stroke:ink,strokeWidth:2}),
    Plot.text([isiLabel],{frameAnchor:"bottom",lineAnchor:"middle",dy:o.xlab,fontSize:23,fill:ink}),
    Plot.text([o.name],{frameAnchor:"left",rotate:-90,textAnchor:"middle",lineAnchor:"middle",dx:o.ylab,dy:o.shift||0,fontSize:o.nameFs,fill:ink})
  ];
}
function place(svg,left,top){
  const d=document.createElement("div");d.className="panel";d.style.left=left+"px";d.style.top=top+"px";d.append(svg);page.append(d);
}

// main chart
{
  const x=[-1.785,29.67], y=[-1.63,25.56];
  const left=0, top=60, right=900, bottom=1382;
  place(Plot.plot({width:right-left,height:bottom-top,marginLeft:71,marginRight:13,marginTop:19,marginBottom:60.3,
    x:{domain:x},y:{domain:y},style:{fontFamily:"Liberation Sans",background:"transparent",overflow:"visible"},
    marks:[
      ...layers(phqRecommended,phqShort,phqLong,7),
      Plot.dot(pointsShort,{x:d=>d[0],y:d=>d[1],r:3.6,fill:colGreen}),
      Plot.dot(pointsRecommended,{x:d=>d[0],y:d=>d[1],r:3.6,fill:colRed}),
      Plot.dot(pointsLong,{x:d=>d[0],y:d=>d[1],r:3.6,fill:colBlue}),
      ...frame(x,y,{ticks:[0,5,10,15,20,25],name:"Adjusted PHQ - 9 Score",xpad:6,ypad:6,xlab:49.5,ylab:-59.5,tickFs:22.5,nameFs:23.6})
    ]}),left,top);
}
// symptom panels
for(const p of panels){
  const left=Math.floor(p.lab-22), top=Math.floor(p.t), bot=Math.min(Math.ceil(p.b)+62,1382);
  const w=Math.min(Math.ceil(p.r)+5,1800)-left;
  place(Plot.plot({width:w,height:bot-top,marginLeft:p.l-left,marginRight:w-(p.r-left),marginTop:p.t-top,marginBottom:bot-p.b,
    x:{domain:p.x},y:{domain:p.y},style:{fontFamily:"Liberation Sans",background:"transparent",overflow:"visible"},
    marks:[...layers(p.rec,p.sho,p.lon,5.5),...frame(p.x,p.y,{ticks:p.ticks,name:p.name,xpad:7,ypad:6,xlab:p.xlab,ylab:p.lab-p.l,shift:p.shift,tickFs:23,nameFs:p.fs})]}),left,top);
}
// legend
[[230,266.5,colRed],[459,495,colGreen],[604,640.3,colBlue]].forEach(([bx,tx,c],i)=>{
  const b=document.createElement("div");b.className="key";b.style.left=bx+"px";b.style.borderColor=c;
  b.style.background=c+"40";
  const bar=document.createElement("i");bar.style.background=c;b.append(bar);page.append(b);
  const t=document.createElement("div");t.className="keyText";t.style.left=tx+"px";t.textContent=groupNames[i];page.append(t);
});
</script></body></html>
